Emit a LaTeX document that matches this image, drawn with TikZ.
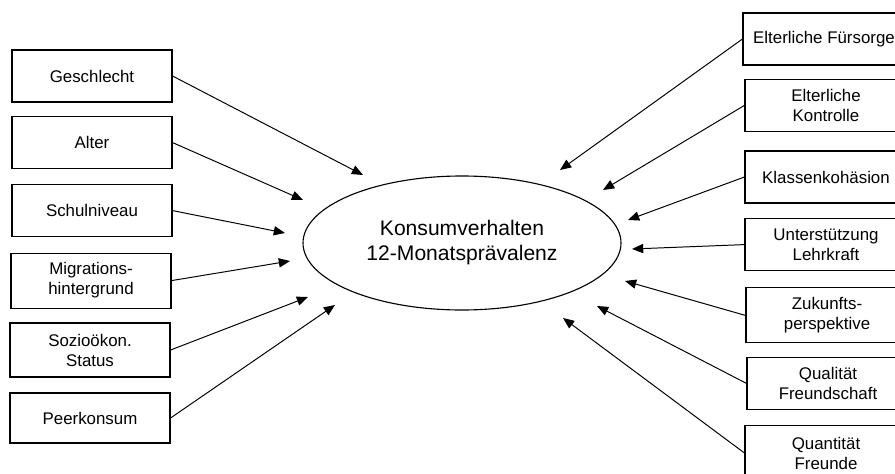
\documentclass[tikz,border=0pt]{standalone}
\usepackage{fontspec}
\setmainfont{Liberation Sans}
\usepackage{tikz}
\usetikzlibrary{shapes.geometric,arrows.meta,positioning}

\begin{document}
\begin{tikzpicture}[
        factor/.style={rectangle, draw, line width=0.8pt, minimum width=4cm, minimum height=1.3cm, align=center, font=\fontsize{12}{14.2}\selectfont},
        outcome/.style={ellipse, draw, line width=0.8pt, minimum width=7.95cm, minimum height=3.35cm, align=center, font=\fontsize{15}{17.8}\selectfont},
        arrow/.style={line width=0.7pt, -{Triangle[length=2.8mm,width=2.3mm]}}
    ]
        \useasboundingbox (0,0) rectangle (22.375,11.825);

        % Outcome
        \node[outcome] (konsum) at (11.55,5.75) {Konsumverhalten\\12-Monatsprävalenz};

        % Left factors
        \node[factor] (geschlecht) at (2.3,9.925) {Geschlecht};
        \node[factor] (alter) at (2.3,8.26) {Alter};
        \node[factor] (schule) at (2.3,6.56) {Schulniveau};
        \node[factor, minimum height=1.375cm] (migration) at (2.275,4.81) {Migrations-\\hintergrund};
        \node[factor, minimum height=1.35cm] (sozio) at (2.25,3.075) {Sozioökon.\\Status};
        \node[factor, minimum height=1.25cm] (peer) at (2.25,1.375) {Peerkonsum};

        % Right factors
        \node[factor, minimum width=4.05cm] (fuersorge) at (20.6,10.85) {Elterliche Fürsorge};
        \node[factor, minimum width=4.05cm] (kontrolle) at (20.65,9.19) {Elterliche\\Kontrolle};
        \node[factor, minimum width=4.05cm] (klasse) at (20.65,7.4) {Klassenkohäsion};
        \node[factor, minimum width=4.05cm] (lehrkraft) at (20.65,5.71) {Unterstützung\\Lehrkraft};
        \node[factor, minimum width=4.05cm, minimum height=1.375cm] (zukunft) at (20.675,3.94) {Zukunfts-\\perspektive};
        \node[factor, minimum width=4.05cm] (qualitaet) at (20.7,2.24) {Qualität\\Freundschaft};
        \node[factor, minimum width=4.05cm, minimum height=1.375cm] (quantitaet) at (20.65,0.5) {Quantität\\Freunde};

        % Arrow tips near the ellipse
        \coordinate (t-geschlecht) at (9.075,7.45);
        \coordinate (t-alter) at (7.575,6.825);
        \coordinate (t-schule) at (7.125,6.0);
        \coordinate (t-migration) at (7.25,5.3);
        \coordinate (t-sozio) at (7.7,4.4);
        \coordinate (t-peer) at (8.375,4.2);
        \coordinate (t-fuersorge) at (14.0,7.575);
        \coordinate (t-kontrolle) at (15.075,7.075);
        \coordinate (t-klasse) at (15.7,6.325);
        \coordinate (t-lehrkraft) at (15.8,5.6);
        \coordinate (t-zukunft) at (15.625,4.8);
        \coordinate (t-qualitaet) at (14.925,4.175);
        \coordinate (t-quantitaet) at (14.075,3.875);

        % Connections
        \foreach \f in {geschlecht,alter,schule,migration,sozio,peer}
            \draw[arrow] (\f.east) -- (t-\f);
        \foreach \f in {fuersorge,kontrolle,klasse,lehrkraft,zukunft,qualitaet,quantitaet}
            \draw[arrow] (\f.west) -- (t-\f);
    \end{tikzpicture}
\end{document}
